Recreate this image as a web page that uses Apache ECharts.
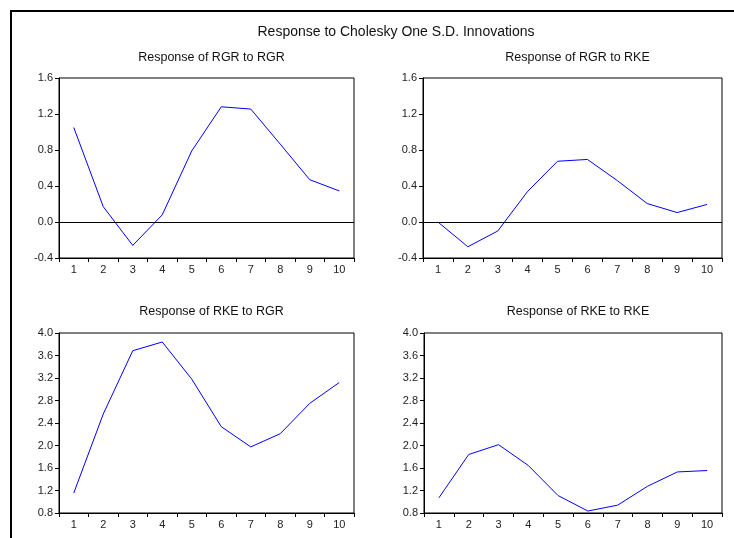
<!DOCTYPE html>
<html>
<head>
<meta charset="utf-8">
<script src="https://cdn.jsdelivr.net/npm/echarts@6/dist/echarts.min.js"></script>
<style>
html,body{margin:0;padding:0;background:#fff;overflow:hidden;}
#chart{width:734px;height:538px;}
</style>
</head>
<body>
<div id="chart"></div>
<script>
var mainTitle = "Response to Cholesky One S.D. Innovations";
var periods = ["1","2","3","4","5","6","7","8","9","10"];
var panelTitles = ["Response of RGR to RGR","Response of RGR to RKE","Response of RKE to RGR","Response of RKE to RKE"];
var rgrToRgr = [1.05, 0.17, -0.26, 0.08, 0.79, 1.28, 1.255, 0.865, 0.47, 0.345];
var rgrToRke = [0.0, -0.275, -0.10, 0.34, 0.675, 0.695, 0.46, 0.205, 0.105, 0.195];
var rkeToRgr = [1.155, 2.56, 3.685, 3.84, 3.18, 2.335, 1.975, 2.21, 2.75, 3.12];
var rkeToRke = [1.07, 1.84, 2.015, 1.645, 1.11, 0.835, 0.94, 1.275, 1.53, 1.555];
var topRange = {min: -0.4, max: 1.6, interval: 0.4};
var bottomRange = {min: 0.8, max: 4.0, interval: 0.4};

var seriesData = [rgrToRgr, rgrToRke, rkeToRgr, rkeToRke];
var ranges = [topRange, topRange, bottomRange, bottomRange];
var showZero = [true, true, false, false];

var grids = [
  {left: 59, top: 78, width: 295, height: 180},
  {left: 423, top: 78, width: 299, height: 180},
  {left: 59, top: 333, width: 295, height: 180},
  {left: 424, top: 333, width: 298, height: 180}
];
var subTitleY = [46, 46, 300, 300];

var font = "'Liberation Sans', Arial, sans-serif";
var chart = echarts.init(document.getElementById('chart'), null, {renderer: 'canvas'});

var titles = [{
  text: mainTitle, left: 391, top: 20, textAlign: 'center',
  textStyle: {fontFamily: font, fontSize: 14, fontWeight: 'normal', color: '#111'}
}];
var xAxes = [], yAxes = [], series = [];
grids.forEach(function (g, i) {
  g.show = true; g.borderColor = '#000'; g.borderWidth = 1; g.containLabel = false;
  titles.push({
    text: panelTitles[i], left: g.left + g.width / 2, top: subTitleY[i], textAlign: 'center',
    textStyle: {fontFamily: font, fontSize: 12.5, fontWeight: 'normal', color: '#111'}
  });
  xAxes.push({
    type: 'category', gridIndex: i, data: periods, boundaryGap: true,
    axisLine: {show: true, onZero: false, lineStyle: {color: '#000', width: 1}},
    axisTick: {show: true, length: 4, inside: false, lineStyle: {color: '#000'}},
    axisLabel: {fontFamily: font, fontSize: 11, color: '#222', margin: 6},
    splitLine: {show: false}
  });
  yAxes.push({
    type: 'value', gridIndex: i, min: ranges[i].min, max: ranges[i].max, interval: ranges[i].interval,
    axisLine: {show: true, lineStyle: {color: '#000', width: 1}},
    axisTick: {show: true, length: 4, inside: false, lineStyle: {color: '#000'}},
    axisLabel: {fontFamily: font, fontSize: 11, color: '#222', margin: 6,
      formatter: function (v) { return v.toFixed(1); }},
    splitLine: {show: false}
  });
  var s = {
    type: 'line', xAxisIndex: i, yAxisIndex: i, data: seriesData[i],
    showSymbol: false, symbol: 'none', smooth: false,
    lineStyle: {color: '#0000FF', width: 1}, itemStyle: {color: '#0000FF'},
    animation: false, silent: true
  };
  if (showZero[i]) {
    s.markLine = {
      silent: true, symbol: ['none', 'none'], label: {show: false},
      lineStyle: {color: '#000', width: 1, type: 'solid'},
      data: [{yAxis: 0}], animation: false
    };
  }
  series.push(s);
});

chart.setOption({
  backgroundColor: '#fff',
  animation: false,
  title: titles,
  grid: grids,
  xAxis: xAxes,
  yAxis: yAxes,
  series: series,
  graphic: [{
    type: 'polyline', silent: true,
    shape: {points: [[11, 538], [11, 11], [734, 11]]},
    style: {stroke: '#000', lineWidth: 2, fill: null}
  }]
});
</script>
</body>
</html>
